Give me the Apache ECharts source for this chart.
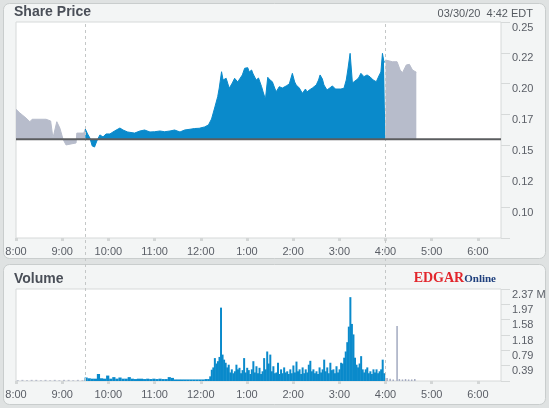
<!DOCTYPE html>
<html>
<head>
<meta charset="utf-8">
<script src="https://cdn.jsdelivr.net/npm/echarts@6/dist/echarts.min.js"></script>
<style>
  html, body { margin: 0; padding: 0; background: #dfe2e2; }
  #chart { width: 549px; height: 408px; }
</style>
</head>
<body>
<div id="chart"></div>
<script>
// x values are minutes after 8:00
const hourLabels = ['8:00', '9:00', '10:00', '11:00', '12:00', '1:00', '2:00', '3:00', '4:00', '5:00', '6:00'];
const priceLabels = ['', '0.10', '0.12', '0.15', '0.17', '0.20', '0.22', '0.25'];
const volLabels = ['', '0.39', '0.79', '1.18', '1.58', '1.97', '2.37 M'];
const prevClose = 0.155;
const sessionMarks = [90, 480]; // 9:30 open, 4:00 close

// pre-market
const preTimes = [0, 5, 13, 18, 21, 39, 45, 48, 49, 53, 57, 61, 65, 78, 79, 88, 90];
const prePrices = [0.1793, 0.1763, 0.1722, 0.1692, 0.1712, 0.1712, 0.1698, 0.156, 0.1544, 0.1692, 0.164, 0.1552, 0.1504, 0.152, 0.160, 0.160, 0.1633];

// regular session
const regTimes = [90, 93, 96, 99, 102, 105, 109, 113, 117, 122, 128, 135, 139, 145, 154, 161, 167, 174, 180, 187,
  193, 200, 206, 213, 219, 226, 232, 238, 245, 250, 254, 258, 262, 264, 267, 269, 273, 277, 281, 284,
  288, 290, 294, 297, 301, 303, 306, 308, 312, 315, 319, 321, 324, 327, 330, 333, 336, 338, 342, 346,
  351, 355, 359, 362, 364, 368, 372, 376, 378, 381, 385, 390, 393, 395, 398, 400, 404, 407, 411, 415,
  417, 422, 426, 429, 431, 434, 437, 439, 442, 445, 448, 452, 456, 460, 464, 468, 472, 474, 476, 478, 480];
const regPrices = [0.1633, 0.1593, 0.156, 0.1496, 0.1487, 0.1536, 0.1585, 0.1569, 0.1593, 0.1593,
  0.1617, 0.1641, 0.1625, 0.1609, 0.160, 0.1617, 0.1625, 0.1609, 0.1611, 0.1617,
  0.1611, 0.1617, 0.1625, 0.1609, 0.1625, 0.1631, 0.1637, 0.1639, 0.165, 0.1666,
  0.1714, 0.1803, 0.1895, 0.1965, 0.2097, 0.203, 0.2044, 0.1963, 0.2006, 0.2044,
  0.2014, 0.2003, 0.2071, 0.2125, 0.213, 0.2095, 0.2111, 0.2079, 0.203, 0.2046,
  0.1976, 0.1933, 0.1874, 0.2052, 0.203, 0.2016, 0.1965, 0.1935, 0.1976, 0.1965,
  0.1982, 0.1998, 0.2084, 0.2014, 0.199, 0.1965, 0.1922, 0.1957, 0.1933, 0.1949,
  0.1965, 0.199, 0.203, 0.2071, 0.2038, 0.199, 0.1949, 0.1963, 0.1982, 0.1957,
  0.1949, 0.1957, 0.1963, 0.203, 0.2111, 0.2246, 0.2006, 0.2014, 0.203, 0.2046,
  0.2084, 0.2057, 0.2071, 0.2055, 0.203, 0.2016, 0.2071, 0.2095, 0.2246, 0.2176, 0.2176];

// after hours
const postTimes = [480, 482, 489, 495, 499, 502, 507, 511, 515, 520];
const postPrices = [0.2192, 0.2198, 0.2178, 0.2178, 0.2111, 0.2089, 0.2152, 0.2157, 0.2111, 0.2093];

// volume, millions
const preVolTimes = [2, 8, 14, 20, 26, 32, 38, 44, 50, 56, 62, 68, 74, 80, 86];
const preVolumes = [0.02, 0.03, 0.02, 0.03, 0.03, 0.02, 0.03, 0.02, 0.03, 0.02, 0.03, 0.03, 0.02, 0.03, 0.02];

const quietVolTimes = [90, 94, 98, 102, 106, 110, 114, 118, 122, 126, 130, 134, 138, 142, 146, 150, 154, 158, 162, 166,
  170, 174, 178, 182, 186, 190, 194, 198, 202, 206, 210, 214, 218, 222, 226, 230, 234, 238, 242, 246];
const quietVolumes = [0.09, 0.07, 0.06, 0.06, 0.18, 0.07, 0.06, 0.14, 0.06, 0.1, 0.06, 0.09, 0.06, 0.06, 0.1, 0.06, 0.05, 0.06, 0.06, 0.05,
  0.06, 0.05, 0.06, 0.05, 0.06, 0.05, 0.05, 0.1, 0.08, 0.04, 0.04, 0.04, 0.04, 0.04, 0.04, 0.04, 0.04, 0.04, 0.04, 0.05];

const activeVolTimes = [250, 252, 254, 256, 258, 260, 262, 264, 266, 268, 270, 272, 274, 276, 278, 280, 282, 284, 286, 288,
  290, 292, 294, 296, 298, 300, 302, 304, 306, 308, 310, 312, 314, 316, 318, 320, 322, 324, 326, 328,
  330, 332, 334, 336, 338, 340, 342, 344, 346, 348, 350, 352, 354, 356, 358, 360, 362, 364, 366, 368,
  370, 372, 374, 376, 378, 380, 382, 384, 386, 388, 390, 392, 394, 396, 398, 400, 402, 404, 406, 408,
  410, 412, 414, 416, 418, 420, 422, 424, 426, 428, 430, 432, 434, 436, 438, 440, 442, 444, 446, 448,
  450, 452, 454, 456, 458, 460, 462, 464, 466, 468, 470, 472, 474, 476, 478];
const activeVolumes = [0.05, 0.12, 0.29, 0.35, 0.59, 0.45, 0.51, 0.62, 1.89, 0.68, 0.55, 0.47, 0.35, 0.42, 0.22, 0.3, 0.2, 0.25, 0.42, 0.3,
  0.34, 0.2, 0.28, 0.59, 0.22, 0.34, 0.28, 0.18, 0.3, 0.51, 0.22, 0.38, 0.2, 0.34, 0.18, 0.25, 0.59, 0.3, 0.76, 0.45,
  0.68, 0.25, 0.38, 0.2, 0.22, 0.47, 0.18, 0.3, 0.2, 0.35, 0.22, 0.25, 0.18, 0.3, 0.2, 0.4, 0.22, 0.5, 0.25, 0.3,
  0.18, 0.35, 0.2, 0.3, 0.22, 0.42, 0.52, 0.25, 0.3, 0.2, 0.25, 0.18, 0.35, 0.22, 0.3, 0.55, 0.25, 0.35, 0.2, 0.47,
  0.28, 0.3, 0.2, 0.38, 0.22, 0.3, 0.47, 0.45, 0.6, 0.76, 1.0, 1.4, 2.16, 1.47, 1.2, 0.6, 0.42, 0.35, 0.45, 0.64,
  0.3, 0.22, 0.3, 0.35, 0.2, 0.25, 0.18, 0.3, 0.22, 0.3, 0.2, 0.25, 0.3, 0.55, 0.2];

const postVolTimes = [482, 486, 490, 495, 498, 502, 506, 510, 514, 518];
const postVolumes = [0.08, 0.06, 0.04, 1.42, 0.05, 0.04, 0.05, 0.04, 0.04, 0.05];

const FONT = '"Liberation Sans", Arial, sans-serif';
const BLUE = '#0a8acb';
const GRAY = '#b7bccb';
const LABEL = '#5a5e66';

const pairs = (xs, ys) => xs.map((x, i) => [x, ys[i]]);
const hourTicks = hourLabels.map((_, i) => i * 60);

const chart = echarts.init(document.getElementById('chart'));

function xAxisFor(gridIndex, show) {
  return {
    type: 'value', gridIndex: gridIndex, min: 0, max: 630, interval: 60, show: show,
    axisLine: { show: false, onZero: false },
    splitLine: { show: false },
    axisTick: { show: show, customValues: hourTicks, length: 3, lineStyle: { color: '#d3d6d6', width: 3 } },
    axisLabel: {
      show: show, customValues: hourTicks, margin: 8, color: LABEL, fontSize: 11, fontFamily: FONT,
      formatter: v => hourLabels[Math.round(v / 60)] || ''
    }
  };
}

function yAxisFor(gridIndex, min, max, step, labels) {
  return {
    type: 'value', gridIndex: gridIndex, position: 'right', min: min, max: max, interval: step,
    axisLine: { show: false, onZero: false },
    splitLine: { show: false },
    axisTick: { show: true, length: 9, lineStyle: { color: '#d6d9d9' } },
    axisLabel: {
      margin: 11, verticalAlign: 'top', color: LABEL, fontSize: 11, fontFamily: FONT,
      formatter: v => labels[Math.round((v - min) / step)] || ''
    }
  };
}

function areaSeries(xs, ys, color) {
  return {
    type: 'line', xAxisIndex: 0, yAxisIndex: 0,
    data: pairs(xs, ys),
    symbol: 'none',
    lineStyle: { color: color, width: 1 },
    areaStyle: { color: color, opacity: 1, origin: prevClose },
    z: 3
  };
}

function barSeries(xs, ys, color, width) {
  return {
    type: 'bar', xAxisIndex: 1, yAxisIndex: 1,
    data: pairs(xs, ys),
    barWidth: width, barGap: '-100%',
    itemStyle: { color: color },
    z: 3
  };
}

const option = {
  animation: false,
  backgroundColor: '#dfe2e2',
  graphic: [
    { type: 'rect', z: -10, shape: { x: 3.5, y: 3.5, width: 542, height: 255, r: 6 },
      style: { fill: '#f3f5f5', stroke: '#c9cdcd', lineWidth: 1 } },
    { type: 'rect', z: -10, shape: { x: 3.5, y: 264.5, width: 542, height: 140, r: 6 },
      style: { fill: '#f3f5f5', stroke: '#c9cdcd', lineWidth: 1 } }
  ],
  title: [
    { text: 'Share Price', left: 14, top: 5, padding: 0,
      textStyle: { fontSize: 14, fontWeight: 'bold', color: '#4a4f58', fontFamily: FONT } },
    { text: '03/30/20  4:42 EDT', right: 16, top: 8, padding: 0,
      textStyle: { fontSize: 11, fontWeight: 'normal', color: '#555a60', fontFamily: FONT } },
    { text: 'Volume', left: 14, top: 272, padding: 0,
      textStyle: { fontSize: 14, fontWeight: 'bold', color: '#4a4f58', fontFamily: FONT } },
    { text: '{a|EDGAR}{b|Online}', right: 53, top: 271, padding: 0,
      textStyle: { rich: {
        a: { fontFamily: '"Liberation Serif", serif', fontWeight: 'bold', fontSize: 14, color: '#e2262c', verticalAlign: 'bottom' },
        b: { fontFamily: '"Liberation Serif", serif', fontWeight: 'bold', fontSize: 11, color: '#1e3f7d', verticalAlign: 'bottom' }
      } } }
  ],
  grid: [
    { left: 16, right: 48, top: 22, bottom: 170, show: true, backgroundColor: '#fff', borderColor: '#d6d9d9', borderWidth: 1 },
    { left: 16, right: 48, top: 289, bottom: 27, show: true, backgroundColor: '#fff', borderColor: '#d6d9d9', borderWidth: 1 },
    { left: 16, right: 48, top: 22, bottom: 27, show: false }
  ],
  xAxis: [xAxisFor(0, true), xAxisFor(1, true), xAxisFor(2, false)],
  yAxis: [
    yAxisFor(0, 0.075, 0.25, 0.025, priceLabels),
    yAxisFor(1, 0, 2.37, 0.395, volLabels),
    { type: 'value', gridIndex: 2, min: 0, max: 1, show: false }
  ],
  series: [
    // dashed session lines spanning both plots
    {
      type: 'line', xAxisIndex: 2, yAxisIndex: 2, data: [[0, -1]], symbol: 'none', z: 1,
      lineStyle: { width: 0 },
      markLine: {
        silent: true, symbol: 'none', label: { show: false },
        lineStyle: { color: '#c4c7c7', type: [3, 3], width: 1 },
        data: sessionMarks.map(m => ({ xAxis: m }))
      }
    },
    areaSeries(preTimes, prePrices, GRAY),
    areaSeries(regTimes, regPrices, BLUE),
    areaSeries(postTimes, postPrices, GRAY),
    // previous close line
    {
      type: 'line', xAxisIndex: 0, yAxisIndex: 0, z: 5, symbol: 'none',
      data: [[0, prevClose], [630, prevClose]],
      lineStyle: { color: '#5b5d5f', width: 2 }
    },
    barSeries(preVolTimes, preVolumes, GRAY, 2),
    barSeries(quietVolTimes, quietVolumes, BLUE, 3.2),
    barSeries(activeVolTimes, activeVolumes, BLUE, 2),
    barSeries(postVolTimes, postVolumes, '#a3aac0', 1.5)
  ]
};

chart.setOption(option);
</script>
</body>
</html>
